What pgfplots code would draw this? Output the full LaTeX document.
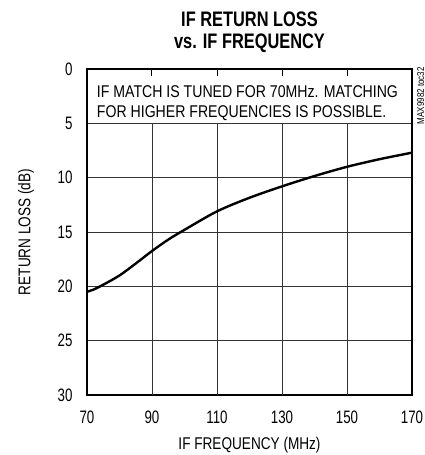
\documentclass[border=0pt]{standalone}
\usepackage{pgfplots}
\pgfplotsset{compat=1.18}
\usepackage{fontspec}
\setmainfont{Liberation Sans}[FakeStretch=0.8]
\newfontfamily\notefont{Liberation Sans}[FakeStretch=0.83]
\newfontfamily\tickfont{Liberation Sans}[FakeStretch=0.74]
\newfontfamily\titlefont{Liberation Sans}[FakeStretch=0.78]

\begin{document}
\begin{tikzpicture}
\begin{axis}[
    at={(0pt,0pt)}, anchor=south west,
    scale only axis,
    width=325pt, height=326pt,
    xmin=70, xmax=170, ymin=0, ymax=30,
    y dir=reverse,
    xtick={70,90,110,130,150,170},
    ytick={0,5,10,15,20,25,30},
    major tick length=0pt,
    ymajorgrids,
    grid style={black!80, line width=0.8pt},
    axis line style={line width=2.6pt},
    tick label style={font=\tickfont\fontsize{18}{18}\selectfont},
    /pgf/number format/assume math mode=true,
    yticklabel style={xshift=-11pt},
    xticklabel style={yshift=-12pt},
    xlabel={IF FREQUENCY (MHz)},
    ylabel={RETURN LOSS (dB)},
    label style={font=\fontsize{17}{17}\selectfont},
    xlabel style={yshift=-7pt},
    ylabel style={yshift=17pt},
    clip=false,
]
% vertical grid starts below the note strip
\pgfplotsinvokeforeach{90,110,130,150}{
  \draw[black!80, line width=0.8pt] (axis cs:#1,5) -- (axis cs:#1,30);
  \draw[black, line width=1pt] (axis cs:#1,0) -- ([yshift=-7pt]axis cs:#1,0);
}
\addplot[black, line width=2.4pt, smooth] coordinates {
  (70,20.5) (72,20.3) (75,19.85) (80,19.0) (85,17.9) (90,16.75)
  (95,15.7) (100,14.8) (110,13.1) (120,11.85) (130,10.8)
  (140,9.85) (150,9.0) (160,8.3) (170,7.7)
};
\node[anchor=north west, align=left, font=\notefont\fontsize{17}{20.7}\selectfont, inner sep=0pt]
  at ([yshift=-16pt]axis cs:73,0) {IF MATCH IS TUNED FOR 70MHz. MATCHING\\FOR HIGHER FREQUENCIES IS POSSIBLE.};
\node[rotate=90, anchor=north east, font=\fontsize{10}{10}\selectfont, inner sep=0pt]
  at ([xshift=5pt,yshift=2pt]axis cs:170,0) {MAX9982 toc32};
\node[align=center, font=\titlefont\bfseries\fontsize{21}{22}\selectfont, anchor=south]
  at ([yshift=13pt]axis cs:120,0) {IF RETURN LOSS\\vs. IF FREQUENCY};
\end{axis}
\pgfresetboundingbox
\path[use as bounding box] (-87pt,-60pt) rectangle (338pt,395pt);
\end{tikzpicture}
\end{document}
